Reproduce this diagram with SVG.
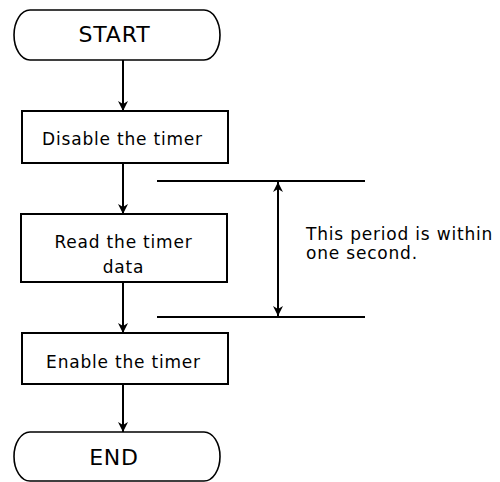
<svg xmlns="http://www.w3.org/2000/svg" width="500" height="482" viewBox="0 0 500 482">
  <style>
    .shape { fill: #fff; stroke: #000; stroke-width: 2; }
    .term { fill: #fff; stroke: #000; stroke-width: 1.6; }
    .line { stroke: #000; stroke-width: 2; fill: none; }
    .lbl { font-family: "DejaVu Sans", "Open Sans", sans-serif; font-size: 17px; fill: #000; letter-spacing: 0.8px; }
    .big { font-family: "DejaVu Sans", "Open Sans", sans-serif; font-size: 22px; fill: #000; letter-spacing: 0.8px; }
  </style>
  <defs>
    <marker id="arr" viewBox="0 0 10 16" refX="10" refY="8" markerWidth="10" markerHeight="16" markerUnits="userSpaceOnUse" orient="auto-start-reverse">
      <path d="M0,3 L10,8 L0,13 L3,8 Z" fill="#000"/>
    </marker>
  </defs>

  <g id="start">
    <path class="term" d="M30,10 H204 A16,25 0 0 1 204,60 H30 A16,25 0 0 1 30,10 Z"/>
    <text class="big" x="114.5" y="42" text-anchor="middle">START</text>
  </g>

  <g id="disable">
    <rect class="shape" x="22" y="111" width="206" height="52"/>
    <text class="lbl" x="122.5" y="144.5" text-anchor="middle">Disable the timer</text>
  </g>

  <g id="read">
    <rect class="shape" x="21" y="214" width="206" height="68"/>
    <text class="lbl" x="123.5" y="248" text-anchor="middle">Read the timer</text>
    <text class="lbl" x="123.5" y="273" text-anchor="middle">data</text>
  </g>

  <g id="enable">
    <rect class="shape" x="22" y="333" width="206" height="51"/>
    <text class="lbl" x="123.5" y="368" text-anchor="middle">Enable the timer</text>
  </g>

  <g id="end">
    <path class="term" d="M30,432 H204 A16,24.5 0 0 1 204,481 H30 A16,24.5 0 0 1 30,432 Z"/>
    <text class="big" x="114" y="465" text-anchor="middle">END</text>
  </g>

  <g id="note">
    <text class="lbl" x="306" y="240">This period is within</text>
    <text class="lbl" x="306" y="259">one second.</text>
  </g>

  <g id="connectors">
    <line class="line" x1="123" y1="60" x2="123" y2="111" marker-end="url(#arr)"/>
    <line class="line" x1="123" y1="163" x2="123" y2="214" marker-end="url(#arr)"/>
    <line class="line" x1="123" y1="282" x2="123" y2="333" marker-end="url(#arr)"/>
    <line class="line" x1="123" y1="384" x2="123" y2="432" marker-end="url(#arr)"/>
    <line class="line" x1="157" y1="181" x2="365" y2="181"/>
    <line class="line" x1="157" y1="317" x2="365" y2="317"/>
    <line class="line" x1="278" y1="182" x2="278" y2="316" marker-start="url(#arr)" marker-end="url(#arr)"/>
  </g>
</svg>
